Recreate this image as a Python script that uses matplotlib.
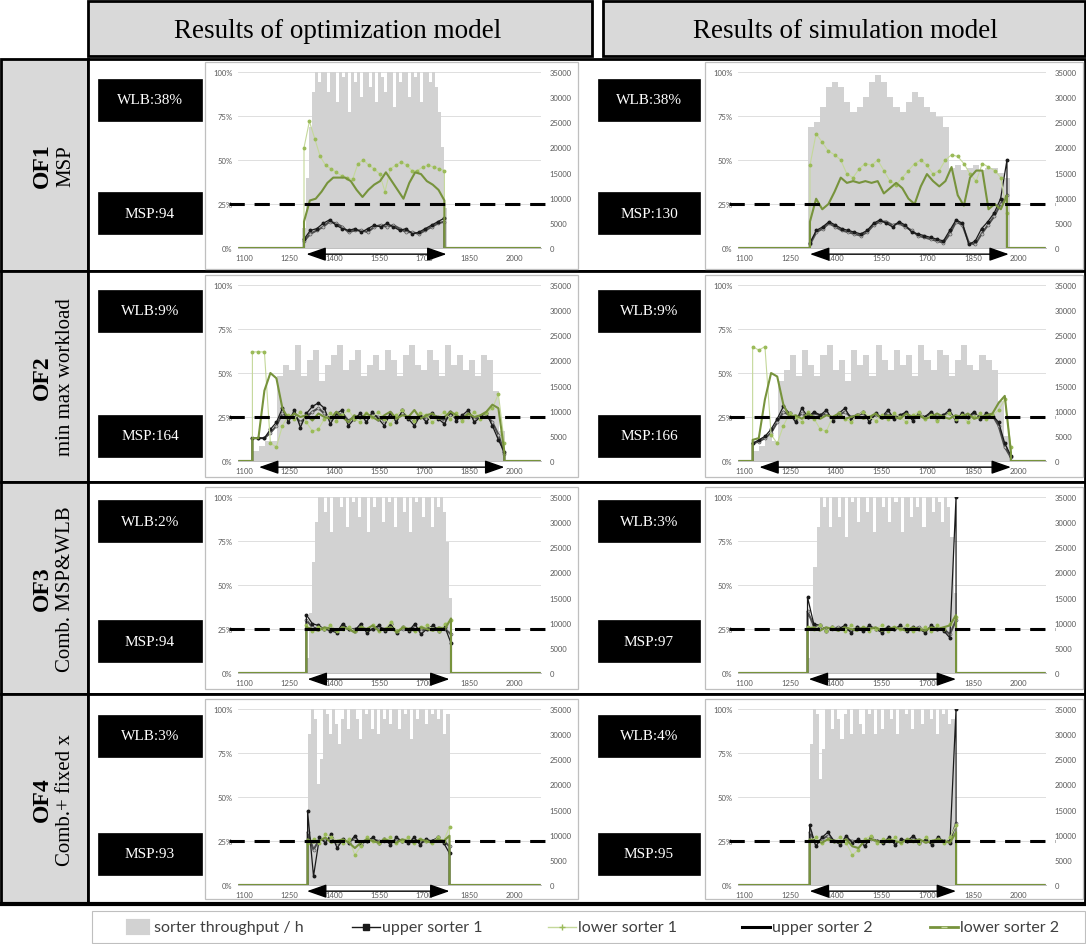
import numpy as np
import matplotlib
matplotlib.use('Agg')
import matplotlib.pyplot as plt
from matplotlib.patches import Rectangle
from matplotlib.lines import Line2D

# ---- data ----
x_ticks = [1100, 1250, 1400, 1550, 1700, 1850, 2000]
row_names = ['OF1', 'OF2', 'OF3', 'OF4']
row_subs = ['MSP', 'min max workload', 'Comb. MSP&WLB', 'Comb.+ fixed x']
wlb_opt = ['WLB:38%', 'WLB:9%', 'WLB:2%', 'WLB:3%']
msp_opt = ['MSP:94', 'MSP:164', 'MSP:94', 'MSP:93']
wlb_sim = ['WLB:38%', 'WLB:9%', 'WLB:3%', 'WLB:4%']
msp_sim = ['MSP:130', 'MSP:166', 'MSP:97', 'MSP:95']

# OF1 - optimization
o1_span = (1300, 1768)
o1_tp_span = (1300, 1772)
o1_arrow = (1308, 1775)
o1_tp = [4000, 14000, 24000, 31000, 35000, 33000, 35000, 35000, 31000, 35000, 35000, 29000,
         35000, 34000, 35000, 27000, 35000, 33000, 35000, 30000, 35000, 35000, 32000, 35000,
         29000, 35000, 34000, 31000, 35000, 35000, 28000, 35000, 33000, 35000, 35000, 30000,
         35000, 34000, 35000, 29000, 35000, 35000, 33000, 35000, 32000, 27000, 20000, 8000]
o1_u1 = [0.05, 0.10, 0.11, 0.14, 0.16, 0.13, 0.11, 0.10, 0.11, 0.09, 0.11, 0.13, 0.12, 0.14,
         0.12, 0.10, 0.11, 0.08, 0.09, 0.11, 0.13, 0.15, 0.17]
o1_u2 = [0.04, 0.08, 0.10, 0.12, 0.15, 0.14, 0.12, 0.09, 0.10, 0.10, 0.09, 0.12, 0.13, 0.12,
         0.13, 0.11, 0.09, 0.09, 0.08, 0.10, 0.12, 0.14, 0.15]
o1_l1 = [0.57, 0.72, 0.62, 0.52, 0.47, 0.45, 0.43, 0.41, 0.40, 0.39, 0.48, 0.50, 0.47, 0.45,
         0.42, 0.32, 0.45, 0.47, 0.49, 0.47, 0.44, 0.44, 0.46, 0.47, 0.46, 0.45, 0.44]
o1_l2 = [0.15, 0.27, 0.28, 0.32, 0.37, 0.40, 0.40, 0.40, 0.38, 0.33, 0.29, 0.33, 0.36, 0.38,
         0.43, 0.38, 0.33, 0.28, 0.37, 0.43, 0.42, 0.38, 0.36, 0.33, 0.27]

# OF1 - simulation
s1_span = (1316, 1962)
s1_tp_span = (1318, 1962)
s1_arrow = (1316, 1968)
s1_tp = [24000, 25000, 28000, 32000, 33000, 32000, 29000, 27000, 28000, 30000, 33000, 34500,
         33000, 30000, 28000, 27000, 29000, 31000, 30000, 28000, 27000, 26000, 24000, 16000,
         16500, 15500, 16000, 16500, 15500, 16000, 16000, 15000, 14000]
s1_u1 = [0.03, 0.10, 0.12, 0.15, 0.13, 0.11, 0.10, 0.09, 0.08, 0.10, 0.14, 0.16, 0.14, 0.12,
         0.15, 0.13, 0.09, 0.08, 0.07, 0.06, 0.05, 0.04, 0.10, 0.16, 0.14, 0.02, 0.04, 0.11,
         0.15, 0.20, 0.28, 0.50]
s1_u2 = [0.02, 0.09, 0.11, 0.14, 0.12, 0.10, 0.09, 0.08, 0.07, 0.09, 0.13, 0.15, 0.15, 0.13,
         0.14, 0.12, 0.10, 0.07, 0.06, 0.05, 0.04, 0.03, 0.08, 0.15, 0.13, 0.03, 0.02, 0.08,
         0.13, 0.18, 0.25, 0.30]
s1_l1 = [0.47, 0.65, 0.60, 0.55, 0.53, 0.50, 0.42, 0.40, 0.45, 0.48, 0.47, 0.50, 0.44, 0.38,
         0.36, 0.40, 0.44, 0.48, 0.50, 0.47, 0.42, 0.44, 0.50, 0.53, 0.52, 0.48, 0.42, 0.38,
         0.48, 0.46, 0.44, 0.40, 0.20]
s1_l2 = [0.15, 0.28, 0.22, 0.25, 0.32, 0.40, 0.37, 0.38, 0.37, 0.38, 0.37, 0.38, 0.31, 0.34,
         0.37, 0.34, 0.28, 0.25, 0.35, 0.42, 0.38, 0.35, 0.38, 0.46, 0.30, 0.24, 0.40, 0.44,
         0.44, 0.22, 0.25, 0.22, 0.30]

# OF2 - optimization
o2_span = (1128, 1968)
o2_tp_span = (1140, 1960)
o2_arrow = (1150, 1968)
o2_tp = [2000, 3000, 4000, 4000, 17000, 19000, 18000, 23000, 17000, 20000, 22000, 16000,
         19000, 21000, 23000, 18000, 20000, 22000, 17000, 19000, 21000, 18000, 22000, 20000,
         17000, 21000, 23000, 19000, 18000, 22000, 20000, 17000, 23000, 19000, 21000, 18000,
         20000, 17000, 21000, 20000, 14000, 6000]
o2_u1 = [0.13, 0.13, 0.13, 0.18, 0.22, 0.30, 0.22, 0.29, 0.19, 0.27, 0.31, 0.33, 0.30, 0.21,
         0.27, 0.29, 0.20, 0.24, 0.27, 0.22, 0.28, 0.24, 0.20, 0.27, 0.22, 0.29, 0.24, 0.20,
         0.26, 0.22, 0.27, 0.24, 0.21, 0.28, 0.23, 0.26, 0.29, 0.22, 0.25, 0.27, 0.20, 0.12, 0.05]
o2_u2 = [0.13, 0.13, 0.13, 0.16, 0.20, 0.27, 0.25, 0.26, 0.22, 0.25, 0.28, 0.30, 0.27, 0.24,
         0.25, 0.27, 0.23, 0.25, 0.26, 0.24, 0.26, 0.25, 0.23, 0.26, 0.24, 0.27, 0.25, 0.23,
         0.25, 0.24, 0.26, 0.25, 0.23, 0.26, 0.25, 0.24, 0.27, 0.24, 0.25, 0.26, 0.22, 0.15, 0.04]
o2_l1 = [0.62, 0.62, 0.62, 0.10, 0.08, 0.20, 0.26, 0.24, 0.28, 0.22, 0.17, 0.18, 0.24, 0.27,
         0.23, 0.26, 0.29, 0.24, 0.22, 0.27, 0.25, 0.28, 0.24, 0.21, 0.26, 0.29, 0.25, 0.23,
         0.27, 0.26, 0.22, 0.25, 0.28, 0.24, 0.27, 0.23, 0.25, 0.28, 0.24, 0.27, 0.30, 0.38, 0.10]
o2_l2 = [0.13, 0.13, 0.40, 0.50, 0.47, 0.30, 0.24, 0.27, 0.25, 0.26, 0.23, 0.27, 0.25, 0.24,
         0.28, 0.25, 0.22, 0.26, 0.24, 0.27, 0.25, 0.23, 0.26, 0.28, 0.24, 0.26, 0.25, 0.29,
         0.24, 0.26, 0.27, 0.24, 0.25, 0.28, 0.26, 0.24, 0.27, 0.25, 0.26, 0.28, 0.32, 0.30, 0.05]

# OF2 - simulation
s2_span = (1128, 1975)
s2_tp_span = (1140, 1962)
s2_arrow = (1150, 1975)
s2_tp = [2000, 3000, 5000, 4000, 16000, 18000, 21000, 17000, 22000, 19000, 17000, 21000,
         23000, 18000, 20000, 16000, 22000, 19000, 21000, 17000, 23000, 20000, 18000, 22000,
         19000, 21000, 17000, 23000, 20000, 18000, 22000, 21000, 17000, 20000, 23000, 19000,
         18000, 21000, 20000, 18000, 12000, 5000]
s2_u1 = [0.10, 0.12, 0.14, 0.18, 0.24, 0.31, 0.27, 0.22, 0.30, 0.25, 0.28, 0.26, 0.29, 0.23,
         0.27, 0.30, 0.24, 0.26, 0.28, 0.22, 0.27, 0.25, 0.29, 0.24, 0.26, 0.28, 0.23, 0.27,
         0.25, 0.28, 0.24, 0.26, 0.29, 0.23, 0.27, 0.25, 0.28, 0.24, 0.27, 0.26, 0.22, 0.10, 0.03]
s2_u2 = [0.10, 0.11, 0.13, 0.16, 0.22, 0.28, 0.26, 0.24, 0.27, 0.25, 0.27, 0.26, 0.27, 0.24,
         0.26, 0.28, 0.25, 0.26, 0.27, 0.24, 0.26, 0.25, 0.27, 0.25, 0.26, 0.27, 0.24, 0.26,
         0.25, 0.27, 0.25, 0.26, 0.27, 0.24, 0.26, 0.25, 0.27, 0.25, 0.26, 0.26, 0.20, 0.08, 0.02]
s2_l1 = [0.65, 0.63, 0.65, 0.15, 0.10, 0.20, 0.27, 0.25, 0.22, 0.28, 0.24, 0.18, 0.17, 0.25,
         0.27, 0.24, 0.22, 0.26, 0.28, 0.25, 0.23, 0.26, 0.24, 0.27, 0.25, 0.22, 0.26, 0.28,
         0.24, 0.26, 0.23, 0.25, 0.27, 0.24, 0.26, 0.22, 0.25, 0.27, 0.24, 0.26, 0.29, 0.35, 0.08]
s2_l2 = [0.12, 0.13, 0.35, 0.50, 0.48, 0.32, 0.25, 0.26, 0.24, 0.27, 0.25, 0.24, 0.26, 0.25,
         0.27, 0.24, 0.25, 0.26, 0.24, 0.25, 0.27, 0.24, 0.26, 0.25, 0.24, 0.27, 0.25, 0.26,
         0.24, 0.25, 0.27, 0.25, 0.24, 0.26, 0.25, 0.27, 0.24, 0.25, 0.26, 0.27, 0.33, 0.37, 0.05]

# OF3 - optimization
o3_span = (1308, 1790)
o3_tp_span = (1312, 1788)
o3_arrow = (1312, 1785)
o3_tp = [3000, 12000, 22000, 30000, 35000, 35000, 32000, 35000, 28000, 35000, 35000, 33000,
         35000, 29000, 35000, 34000, 35000, 31000, 35000, 35000, 28000, 35000, 33000, 35000,
         35000, 30000, 35000, 34000, 35000, 29000, 35000, 35000, 32000, 35000, 28000, 35000,
         34000, 35000, 31000, 35000, 35000, 29000, 35000, 33000, 35000, 32000, 26000, 15000]
o3_u1 = [0.33, 0.28, 0.27, 0.25, 0.24, 0.23, 0.28, 0.25, 0.24, 0.28, 0.23, 0.25, 0.27, 0.24,
         0.28, 0.23, 0.26, 0.24, 0.28, 0.22, 0.25, 0.27, 0.24, 0.26, 0.17]
o3_u2 = [0.30, 0.26, 0.25, 0.25, 0.26, 0.24, 0.26, 0.25, 0.25, 0.26, 0.24, 0.25, 0.26, 0.25,
         0.26, 0.24, 0.25, 0.25, 0.26, 0.24, 0.25, 0.26, 0.25, 0.25, 0.22]
o3_l1 = [0.27, 0.24, 0.26, 0.25, 0.27, 0.24, 0.25, 0.26, 0.24, 0.26, 0.25, 0.27, 0.24, 0.25,
         0.29, 0.24, 0.26, 0.25, 0.24, 0.26, 0.27, 0.25, 0.24, 0.28, 0.30]
o3_l2 = [0.26, 0.25, 0.24, 0.26, 0.25, 0.24, 0.26, 0.25, 0.23, 0.26, 0.25, 0.27, 0.24, 0.25,
         0.26, 0.23, 0.26, 0.25, 0.24, 0.26, 0.25, 0.24, 0.26, 0.25, 0.31]

# OF3 - simulation
s3_span = (1308, 1795)
s3_tp_span = (1312, 1792)
s3_arrow = (1312, 1795)
s3_tp = [3000, 11000, 21000, 29000, 35000, 33000, 35000, 29000, 35000, 35000, 31000, 35000,
         27000, 35000, 34000, 35000, 30000, 35000, 35000, 32000, 35000, 28000, 35000, 35000,
         33000, 35000, 30000, 35000, 34000, 35000, 28000, 35000, 35000, 31000, 35000, 33000,
         35000, 29000, 35000, 35000, 32000, 35000, 34000, 30000, 35000, 33000, 27000, 16000]
s3_u1 = [0.43, 0.28, 0.27, 0.24, 0.26, 0.25, 0.27, 0.23, 0.26, 0.24, 0.27, 0.25, 0.23, 0.26,
         0.25, 0.27, 0.24, 0.26, 0.25, 0.23, 0.27, 0.25, 0.24, 0.20, 1.00]
s3_u2 = [0.35, 0.27, 0.26, 0.25, 0.25, 0.26, 0.25, 0.24, 0.26, 0.25, 0.26, 0.25, 0.24, 0.26,
         0.25, 0.26, 0.25, 0.25, 0.26, 0.24, 0.26, 0.25, 0.25, 0.22, 0.30]
s3_l1 = [0.26, 0.25, 0.27, 0.24, 0.26, 0.25, 0.24, 0.27, 0.25, 0.26, 0.24, 0.25, 0.27, 0.24,
         0.26, 0.25, 0.27, 0.24, 0.25, 0.26, 0.24, 0.27, 0.25, 0.28, 0.32]
s3_l2 = [0.25, 0.26, 0.24, 0.26, 0.25, 0.24, 0.26, 0.25, 0.24, 0.26, 0.25, 0.26, 0.24, 0.25,
         0.26, 0.25, 0.24, 0.26, 0.25, 0.24, 0.26, 0.25, 0.26, 0.27, 0.33]

# OF4 - optimization
o4_span = (1312, 1785)
o4_tp_span = (1318, 1780)
o4_arrow = (1310, 1785)
o4_tp = [30000, 35000, 33000, 20000, 25000, 35000, 34000, 30000, 35000, 32000, 28000, 33000,
         35000, 31000, 35000, 35000, 33000, 29000, 35000, 34000, 35000, 31000, 35000, 30000,
         35000, 33000, 35000, 32000, 35000, 35000, 31000, 35000, 34000, 35000, 29000, 35000,
         33000, 35000, 35000, 32000, 35000, 34000, 35000, 33000, 35000, 30000, 34000]
o4_u1 = [0.42, 0.05, 0.27, 0.24, 0.29, 0.21, 0.26, 0.24, 0.28, 0.23, 0.25, 0.27, 0.24, 0.26,
         0.23, 0.27, 0.25, 0.24, 0.27, 0.23, 0.26, 0.25, 0.27, 0.24, 0.18]
o4_u2 = [0.30, 0.20, 0.26, 0.25, 0.27, 0.24, 0.25, 0.25, 0.26, 0.24, 0.25, 0.26, 0.25, 0.25,
         0.24, 0.26, 0.25, 0.25, 0.26, 0.24, 0.25, 0.25, 0.26, 0.25, 0.22]
o4_l1 = [0.24, 0.26, 0.24, 0.29, 0.27, 0.25, 0.24, 0.26, 0.17, 0.22, 0.27, 0.25, 0.24, 0.26,
         0.27, 0.24, 0.25, 0.27, 0.24, 0.26, 0.25, 0.24, 0.27, 0.25, 0.33]
o4_l2 = [0.26, 0.24, 0.25, 0.27, 0.24, 0.25, 0.26, 0.24, 0.21, 0.24, 0.26, 0.25, 0.24, 0.26,
         0.25, 0.24, 0.26, 0.25, 0.24, 0.26, 0.25, 0.24, 0.26, 0.25, 0.28]

# OF4 - simulation
s4_span = (1315, 1795)
s4_tp_span = (1320, 1785)
s4_arrow = (1315, 1795)
s4_tp = [28000, 35000, 34000, 21000, 27000, 35000, 35000, 31000, 35000, 33000, 29000, 34000,
         35000, 30000, 35000, 35000, 32000, 30000, 35000, 34000, 35000, 30000, 35000, 31000,
         35000, 35000, 33000, 35000, 30000, 35000, 35000, 34000, 35000, 31000, 35000, 35000,
         32000, 35000, 35000, 33000, 35000, 30000, 35000, 34000, 35000, 32000, 33000]
s4_u1 = [0.34, 0.22, 0.27, 0.30, 0.25, 0.23, 0.28, 0.24, 0.26, 0.22, 0.27, 0.25, 0.24, 0.27,
         0.23, 0.26, 0.25, 0.28, 0.24, 0.26, 0.23, 0.27, 0.25, 0.24, 1.00]
s4_u2 = [0.30, 0.24, 0.26, 0.28, 0.25, 0.24, 0.26, 0.25, 0.25, 0.24, 0.26, 0.25, 0.25, 0.26,
         0.24, 0.25, 0.25, 0.26, 0.25, 0.25, 0.24, 0.26, 0.25, 0.25, 0.35]
s4_l1 = [0.25, 0.27, 0.24, 0.26, 0.25, 0.27, 0.24, 0.17, 0.20, 0.26, 0.28, 0.24, 0.26, 0.25,
         0.27, 0.24, 0.26, 0.25, 0.24, 0.27, 0.25, 0.26, 0.24, 0.27, 0.34]
s4_l2 = [0.26, 0.25, 0.24, 0.26, 0.25, 0.24, 0.26, 0.22, 0.21, 0.25, 0.26, 0.25, 0.24, 0.26,
         0.25, 0.24, 0.26, 0.25, 0.26, 0.24, 0.25, 0.26, 0.25, 0.24, 0.30]

# ---- layout (pixels) ----
W, H = 1086, 945
XMIN, XMAX = 1080, 2090
row_top = [60, 272, 483, 695]
row_bot = [272, 483, 695, 905]
panel_top = [63, 276, 488, 700]
panel_bot = [270, 478, 690, 900]
wlb_y = [101, 312, 522, 737]
msp_y = [214, 437, 642, 855]

C_TP = '#d2d2d2'
C_U1 = '#1a1a1a'
C_L1 = '#c4d89a'
C_L1M = '#9bbb59'
C_U2 = '#4d4d4d'
C_L2 = '#77933c'
SERIF = 'Liberation Serif'
SANS = 'Lato'


def fx(x):
    return x / W


def fy(y):
    return 1 - y / H


fig = plt.figure(figsize=(W / 100, H / 100), dpi=100)


def box(x0, y0, x1, y1, fc, ec, lw, z=-2):
    r = Rectangle((fx(x0), fy(y1)), (x1 - x0) / W, (y1 - y0) / H, transform=fig.transFigure,
                  facecolor=fc, edgecolor=ec, linewidth=lw, zorder=z)
    fig.add_artist(r)


def hline(x0, x1, y, color, lw, z=3):
    fig.add_artist(Line2D([fx(x0), fx(x1)], [fy(y), fy(y)], transform=fig.transFigure,
                          color=color, lw=lw, zorder=z))


def series(start, end, vals):
    x = np.linspace(start, end, len(vals))
    xx = np.concatenate([[XMIN + 5, start], x, [end, XMAX - 5]])
    yy = np.concatenate([[0, 0], vals, [0, 0]])
    return x, xx, yy


def draw_chart(px0, px1, ptop, pbot, span, tp_span, tp, u1, l1, u2, l2, arrow):
    box(px0, ptop, px1, pbot, 'white', '#bfbfbf', 0.9, z=-1)
    atop = ptop + 10
    ax = fig.add_axes([fx(px0 + 33), fy(atop + 176), (px1 - px0 - 70) / W, 176 / H])
    ax.set_facecolor('none')
    for g in [0.25, 0.5, 0.75, 1.0]:
        ax.axhline(35000 * g, color='#d9d9d9', lw=0.6, zorder=0)
    xb = np.linspace(tp_span[0], tp_span[1], len(tp))
    ax.bar(xb, tp, width=(tp_span[1] - tp_span[0]) / (len(tp) - 1),
           color=C_TP, linewidth=0, zorder=1)
    ax.set_xlim(XMIN, XMAX)
    ax.set_ylim(0, 35000)
    ax.set_yticks(range(0, 35001, 5000))
    ax.set_xticks(x_ticks)
    ax2 = ax.twinx()
    ax.yaxis.tick_right()
    ax2.yaxis.tick_left()
    ax2.set_ylim(0, 1)
    ax2.set_yticks([0, 0.25, 0.5, 0.75, 1.0])
    ax2.set_yticklabels(['0%', '25%', '50%', '75%', '100%'])
    for a in (ax, ax2):
        for s in ['top', 'left', 'right']:
            a.spines[s].set_visible(False)
        a.spines['bottom'].set_color('#bfbfbf')
        a.spines['bottom'].set_linewidth(0.6)
        a.tick_params(length=0, labelsize=5.5, labelcolor='#595959', pad=4)
        for t in a.get_xticklabels() + a.get_yticklabels():
            t.set_fontfamily(SANS)
    ax.tick_params(axis='y', pad=6)

    x, xx, yy = series(span[0], span[1], u2)
    ax2.plot(xx, yy, color=C_U2, lw=1.5, zorder=3)
    ax2.plot(x, u2, ls='none', marker='o', ms=2.2, mfc='#bfbfbf', mec=C_U2, mew=0.4, zorder=3)
    x, xx, yy = series(span[0], span[1], u1)
    ax2.plot(xx, yy, color=C_U1, lw=0.9, zorder=4)
    ax2.plot(x, u1, ls='none', marker='o', ms=1.8, color=C_U1, zorder=4)
    x, xx, yy = series(span[0], span[1], l1)
    ax2.plot(xx, yy, color=C_L1, lw=0.8, zorder=5)
    ax2.plot(x, l1, ls='none', marker='o', ms=1.8, color=C_L1M, zorder=5)
    x, xx, yy = series(span[0], span[1], l2)
    ax2.plot(xx, yy, color=C_L2, lw=1.5, zorder=6)

    ax2.plot([-0.03, 1.03], [0.25, 0.25], transform=ax2.get_yaxis_transform(),
             color='black', lw=2.2, dashes=(5, 3.2), clip_on=False, zorder=7)
    ax2.annotate('', xy=(arrow[1], -0.035), xytext=(arrow[0], -0.035),
                 xycoords=('data', 'axes fraction'), textcoords=('data', 'axes fraction'),
                 annotation_clip=False,
                 arrowprops=dict(arrowstyle='<|-|>,head_length=1.2,head_width=0.42',
                                 color='black', lw=1.0, shrinkA=0, shrinkB=0))


def label_box(x0, x1, yc, text):
    box(x0, yc - 21, x1, yc + 21, 'black', 'black', 0.5, z=1)
    fig.text(fx((x0 + x1) / 2), fy(yc), text, color='white', ha='center', va='center',
             fontsize=11, family=SERIF, zorder=2)


# ---- table frame ----
box(88, 2, 592, 57, '#d9d9d9', 'black', 2)
box(603, 2, 1085, 57, '#d9d9d9', 'black', 2)
fig.text(fx(338), fy(31), 'Results of optimization model', ha='center', va='center',
         fontsize=19.5, family=SERIF)
fig.text(fx(845), fy(31), 'Results of simulation model', ha='center', va='center',
         fontsize=19.5, family=SERIF)

for i in range(4):
    box(1, row_top[i], 88, row_bot[i], '#d9d9d9', 'black', 2, z=-3)
    box(88, row_top[i], 1085, row_bot[i], 'white', 'black', 2, z=-3)
    yc = (row_top[i] + row_bot[i]) / 2
    fig.text(fx(42), fy(yc), row_names[i], rotation=90, ha='center', va='center',
             fontsize=17, fontweight='bold', family=SERIF)
    fig.text(fx(66), fy(yc), row_subs[i], rotation=90, ha='center', va='center',
             fontsize=15, family=SERIF)
    label_box(98, 202, wlb_y[i], wlb_opt[i])
    label_box(98, 202, msp_y[i], msp_opt[i])
    label_box(598, 700, wlb_y[i], wlb_sim[i])
    label_box(598, 700, msp_y[i], msp_sim[i])

hline(0, 1086, 905, 'black', 3)

draw_chart(205, 578, panel_top[0], panel_bot[0], o1_span, o1_tp_span, o1_tp, o1_u1, o1_l1, o1_u2, o1_l2, o1_arrow)
draw_chart(705, 1083, panel_top[0], panel_bot[0], s1_span, s1_tp_span, s1_tp, s1_u1, s1_l1, s1_u2, s1_l2, s1_arrow)
draw_chart(205, 578, panel_top[1], panel_bot[1], o2_span, o2_tp_span, o2_tp, o2_u1, o2_l1, o2_u2, o2_l2, o2_arrow)
draw_chart(705, 1083, panel_top[1], panel_bot[1], s2_span, s2_tp_span, s2_tp, s2_u1, s2_l1, s2_u2, s2_l2, s2_arrow)
draw_chart(205, 578, panel_top[2], panel_bot[2], o3_span, o3_tp_span, o3_tp, o3_u1, o3_l1, o3_u2, o3_l2, o3_arrow)
draw_chart(705, 1083, panel_top[2], panel_bot[2], s3_span, s3_tp_span, s3_tp, s3_u1, s3_l1, s3_u2, s3_l2, s3_arrow)
draw_chart(205, 578, panel_top[3], panel_bot[3], o4_span, o4_tp_span, o4_tp, o4_u1, o4_l1, o4_u2, o4_l2, o4_arrow)
draw_chart(705, 1083, panel_top[3], panel_bot[3], s4_span, s4_tp_span, s4_tp, s4_u1, s4_l1, s4_u2, s4_l2, s4_arrow)

# ---- legend ----
box(92, 912, 1085, 944, 'white', '#bfbfbf', 0.8)
ly = 928
box(126, ly - 8, 150, ly + 8, C_TP, C_TP, 0.1, z=2)
fig.text(fx(154), fy(ly), 'sorter throughput / h', ha='left', va='center', fontsize=11.5, family=SANS, color='#404040')
leg_items = [(352, 'upper sorter 1', C_U1, 1.0, 's', C_U1),
             (548, 'lower sorter 1', C_L1, 1.0, '+', C_L1M),
             (742, 'upper sorter 2', 'black', 2.2, '_', 'black'),
             (930, 'lower sorter 2', C_L2, 2.0, '_', '#c4d89a')]
for x0, name, c, lw, mk, mc in leg_items:
    fig.add_artist(Line2D([fx(x0), fx(x0 + 28)], [fy(ly), fy(ly)], transform=fig.transFigure,
                          color=c, lw=lw, zorder=3))
    fig.add_artist(Line2D([fx(x0 + 14)], [fy(ly)], transform=fig.transFigure, marker=mk,
                          ms=4, color=mc, mec=mc, ls='none', zorder=4))
    fig.text(fx(x0 + 30), fy(ly), name, ha='left', va='center', fontsize=11.5, family=SANS,
             color='#404040')

fig.savefig('out.png', dpi=100)
